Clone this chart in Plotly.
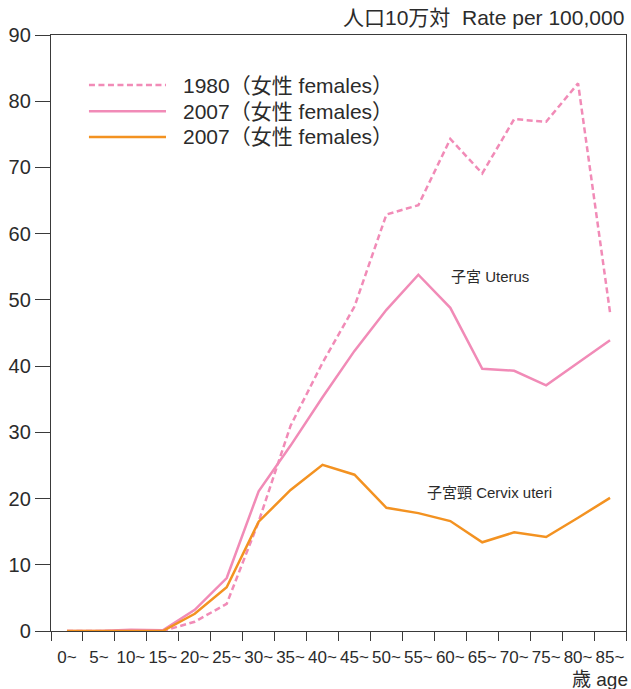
import plotly.graph_objects as go

ages = ["0~", "5~", "10~", "15~", "20~", "25~", "30~", "35~", "40~", "45~",
        "50~", "55~", "60~", "65~", "70~", "75~", "80~", "85~"]
uterus_1980 = [0.0, 0.0, 0.0, 0.0, 1.4, 4.1, 16.5, 31.0, 40.5, 49.0,
               62.9, 64.3, 74.3, 69.1, 77.3, 76.9, 82.7, 48.1]
uterus_2007 = [0.0, 0.0, 0.2, 0.1, 3.2, 8.0, 21.1, 28.0, 35.3, 42.3,
               48.5, 53.8, 48.8, 39.6, 39.3, 37.1, 40.5, 43.9]
cervix_2007 = [0.0, 0.0, 0.0, 0.0, 2.6, 6.6, 16.5, 21.3, 25.1, 23.6,
               18.6, 17.8, 16.6, 13.4, 14.9, 14.2, 17.1, 20.1]
legend_labels = ["1980（女性 females）", "2007（女性 females）", "2007（女性 females）"]
y_ticks = [0, 10, 20, 30, 40, 50, 60, 70, 80, 90]

PINK = "#F18BB7"
ORANGE = "#F39221"
TXT = "#2b2b2b"
AX = "#3a3a3a"
FONT = "Liberation Sans, Arial, Noto Sans CJK JP, sans-serif"

series = [
    (uterus_1980, PINK, "6px,3.5px"),
    (uterus_2007, PINK, "solid"),
    (cervix_2007, ORANGE, "solid"),
]

fig = go.Figure()
for (vals, col, dash), name in zip(series, legend_labels):
    fig.add_trace(go.Scatter(x=ages, y=vals, mode="lines", name=name,
                             line=dict(color=col, width=2.5, dash=dash),
                             showlegend=False))

# manual legend (long line swatches)
leg_y = [0.916, 0.872, 0.829]
for (vals, col, dash), name, yy in zip(series, legend_labels, leg_y):
    fig.add_shape(type="line", xref="paper", yref="paper",
                  x0=0.066, x1=0.20, y0=yy, y1=yy,
                  line=dict(color=col, width=2.5, dash=dash))
    fig.add_annotation(text=name, xref="paper", yref="paper", x=0.226, y=yy,
                       xanchor="left", yanchor="middle", showarrow=False,
                       font=dict(size=21, color=TXT, family=FONT))

fig.add_annotation(text="人口10万対  Rate per 100,000", xref="paper", yref="paper",
                   x=1.0, y=1.030, xanchor="right", yanchor="middle", showarrow=False,
                   font=dict(size=21, color=TXT, family=FONT))
fig.add_annotation(text="歳 age", xref="paper", yref="paper",
                   x=1.007, y=-0.081, xanchor="right", yanchor="middle", showarrow=False,
                   font=dict(size=19, color=TXT, family=FONT))
fig.add_annotation(text="子宮 Uterus", xref="paper", yref="paper",
                   x=0.764, y=0.595, xanchor="center", yanchor="middle", showarrow=False,
                   font=dict(size=15, color=TXT, family=FONT))
fig.add_annotation(text="子宮頸 Cervix uteri", xref="paper", yref="paper",
                   x=0.762, y=0.232, xanchor="center", yanchor="middle", showarrow=False,
                   font=dict(size=15, color=TXT, family=FONT))

fig.update_layout(
    width=631, height=689,
    margin=dict(l=51, r=5, t=35, b=58),
    paper_bgcolor="white", plot_bgcolor="white",
    showlegend=False,
)
fig.update_xaxes(
    type="category", categoryorder="array", categoryarray=ages,
    range=[-0.5, len(ages) - 0.5],
    tickson="boundaries", ticks="outside", ticklen=9, tickwidth=1.4, tickcolor=AX,
    showline=True, linecolor=AX, linewidth=1.4, mirror=True,
    showgrid=False, zeroline=False, ticklabelstandoff=10, tickangle=0,
    automargin=False,
    tickfont=dict(size=17, color=TXT, family=FONT),
)
fig.update_yaxes(
    range=[0, 90], tickvals=y_ticks, ticks="outside", ticklen=15, tickwidth=1.4,
    tickcolor=AX, showline=True, linecolor=AX, linewidth=1.4, mirror=True,
    showgrid=False, zeroline=False, automargin=False,
    tickfont=dict(size=20, color=TXT, family=FONT),
)

fig.write_html(
    "out.html",
    config={"displayModeBar": False},
    post_script="document.body.style.margin='0px';document.body.style.overflow='hidden';",
)
